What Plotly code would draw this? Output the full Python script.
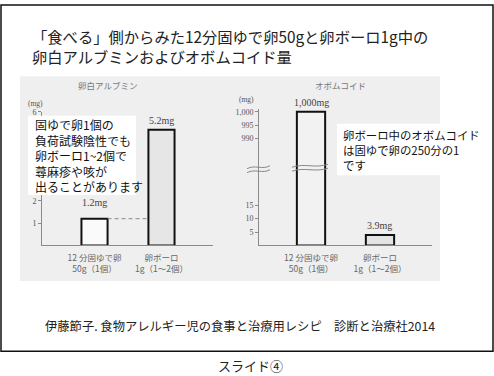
import plotly.graph_objects as go

# ---------------- data ----------------
categories = ["12 分固ゆで卵<br>50g（1個）", "卵ボーロ<br>1g（1～2個）"]
albumin_mg = [1.2, 5.2]
ovomucoid_mg = [1000, 3.9]
albumin_labels = ["1.2mg", "5.2mg"]
ovomucoid_labels = ["1,000mg", "3.9mg"]
albumin_ticks = [1, 2, 3, 4, 5, 6]
ovo_low_ticks = [5, 10, 15]
ovo_high_ticks = [990, 995, 1000]

W, H = 494, 376
def PX(x): return x / W
def PY(y): return 1 - y / H

JP = "Noto Sans CJK JP"
SERIF = "Liberation Serif"
AX = "#8a8a8a"

xpos = [0, 1]
wl, wr = 0.39, 0.41

fig = go.Figure()
fig.add_trace(go.Bar(x=xpos, y=albumin_mg, width=wl, xaxis="x", yaxis="y",
                     marker=dict(color=["#fafafa", "#e6e6e6"], line=dict(color="#111", width=2))))
fig.add_trace(go.Scatter(x=[xpos[0] + wl / 2, xpos[1] - wl / 2], y=[albumin_mg[0]] * 2,
                         mode="lines", xaxis="x", yaxis="y",
                         line=dict(color="#888", width=1, dash="4px,3px")))
for xa, ya in (("x2", "y2"), ("x3", "y3")):
    fig.add_trace(go.Bar(x=xpos, y=ovomucoid_mg, width=wr, xaxis=xa, yaxis=ya,
                         marker=dict(color=["#f2f2f2", "#e4e4e4"], line=dict(color="#111", width=2))))

tickfont = dict(family=SERIF, size=8, color="#555")
catfont = dict(family=JP, size=8.5, color="#666")

common_y = dict(showline=True, linecolor=AX, linewidth=1, ticks="outside", ticklen=3,
                tickcolor=AX, showgrid=False, zeroline=False, tickfont=tickfont, fixedrange=True)
common_x = dict(showline=True, linecolor=AX, linewidth=1, ticks="", showgrid=False,
                zeroline=False, tickvals=xpos, ticktext=categories, tickfont=catfont,
                ticklabelstandoff=4, fixedrange=True)

fig.update_layout(
    width=W, height=H, margin=dict(l=0, r=0, t=0, b=0),
    paper_bgcolor="white", plot_bgcolor="rgba(0,0,0,0)", showlegend=False,
    xaxis=dict(domain=[PX(42), PX(213)], range=[-0.784, 1.769], anchor="y", **common_x),
    yaxis=dict(domain=[PY(244), PY(109)], range=[0, 6], tickvals=albumin_ticks,
               anchor="x", **common_y),
    xaxis2=dict(domain=[PX(259), PX(432)], range=[-0.754, 1.754], anchor="y2", **common_x),
    yaxis2=dict(domain=[PY(244), PY(167)], range=[0, 28.5], tickvals=ovo_low_ticks,
                anchor="x2", **common_y),
    xaxis3=dict(domain=[PX(259), PX(432)], range=[-0.754, 1.754], anchor="y3",
                visible=False, matches="x2"),
    yaxis3=dict(domain=[PY(167), PY(106.3)], range=[978.52, 1001], tickvals=ovo_high_ticks,
                tickformat=",d", anchor="x3", **common_y),
)

def wave(x0, x1, y):
    w = x1 - x0
    return (f"M {PX(x0)},{PY(y + 1.5)} C {PX(x0 + w * 0.35)},{PY(y - 3)} "
            f"{PX(x0 + w * 0.65)},{PY(y + 3)} {PX(x1)},{PY(y - 1.5)}")

shapes = [
    dict(type="rect", xref="paper", yref="paper", x0=PX(20), x1=PX(440), y0=PY(280), y1=PY(73),
         fillcolor="#efefef", line=dict(width=0), layer="below"),
    dict(type="rect", xref="paper", yref="paper", x0=PX(1), x1=PX(493), y0=PY(351), y1=PY(1),
         line=dict(color="#111", width=1.5), layer="below"),
    dict(type="rect", xref="paper", yref="paper", x0=PX(28), x1=PX(136), y0=PY(193), y1=PY(113),
         fillcolor="white", line=dict(width=0), layer="above"),
    dict(type="rect", xref="paper", yref="paper", x0=PX(337), x1=PX(491), y0=PY(173), y1=PY(121),
         fillcolor="white", line=dict(width=0), layer="above"),
]
for y in (165, 169):
    shapes.append(dict(type="path", xref="paper", yref="paper", path=wave(247, 270, y),
                       line=dict(color="#888", width=1), layer="above"))
for y in (163.5, 167.5):
    shapes.append(dict(type="path", xref="paper", yref="paper", path=wave(292, 328, y),
                       line=dict(color="#888", width=1), layer="above"))
fig.update_layout(shapes=shapes)

ann = []
def ptext(text, x, y, size, color="#222", family=JP, xanchor="left"):
    ann.append(dict(text=text, x=PX(x), y=PY(y), xref="paper", yref="paper", showarrow=False,
                    xanchor=xanchor, yanchor="middle", align="left", borderpad=0,
                    font=dict(family=family, size=size, color=color)))

ptext("「食べる」側からみた12分固ゆで卵50gと卵ボーロ1g中の<br>卵白アルブミンおよびオボムコイド量",
      31, 42, 15.3)
ptext("卵白アルブミン", 107, 82, 8.5, "#777", xanchor="center")
ptext("オボムコイド", 340, 82, 8.5, "#777", xanchor="center")
ptext("(mg)", 35, 101, 7.5, "#555", SERIF, "center")
ptext("(mg)", 246, 97, 7.5, "#555", SERIF, "center")

ptext("<br>".join(["固ゆで卵1個の", "負荷試験陰性でも", "卵ボーロ1~2個で", "蕁麻疹や咳が", "出ることがあります"]),
      34, 153, 12, "#111")
ptext("<br>".join(["卵ボーロ中のオボムコイド", "は固ゆで卵の250分の1", "です"]),
      342, 147.5, 11.4, "#111")

ptext("伊藤節子. 食物アレルギー児の食事と治療用レシピ　診断と治療社2014", 44, 325, 12.3, "#222")
ptext("スライド④", 250, 365, 13, "#222", xanchor="center")

valfont = dict(family=SERIF, size=10, color="#444")
shifts_l = [16, 9]
for i in range(2):
    ann.append(dict(text=albumin_labels[i], x=xpos[i], y=albumin_mg[i], xref="x", yref="y",
                    showarrow=False, yanchor="middle", yshift=shifts_l[i], font=valfont))
ann.append(dict(text=ovomucoid_labels[0], x=xpos[0], y=ovomucoid_mg[0], xref="x3", yref="y3",
                showarrow=False, yanchor="middle", yshift=9, font=valfont))
ann.append(dict(text=ovomucoid_labels[1], x=xpos[1], y=ovomucoid_mg[1], xref="x2", yref="y2",
                showarrow=False, yanchor="middle", yshift=9, font=valfont))
fig.update_layout(annotations=ann)

fig.write_html("out.html", config={"displayModeBar": False},
               post_script="document.body.style.margin='0';document.body.style.overflow='hidden';")
